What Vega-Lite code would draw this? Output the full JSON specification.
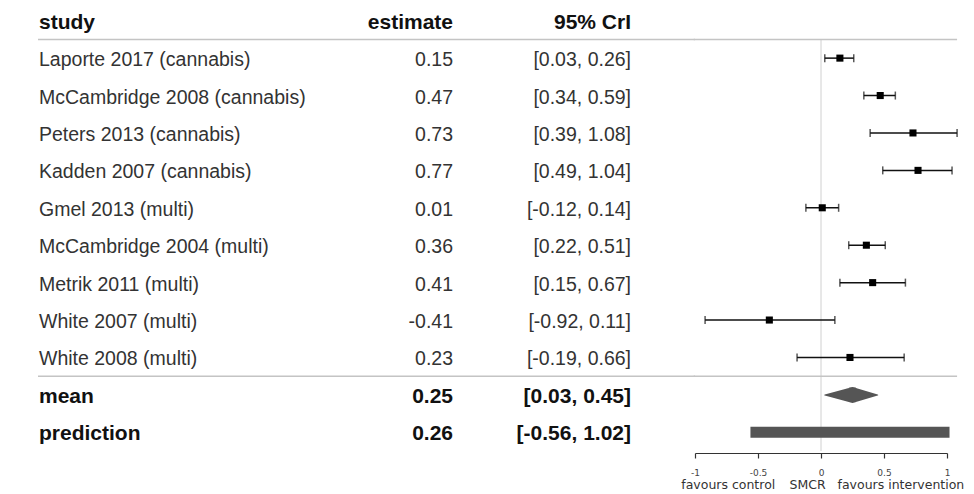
{
  "$schema": "https://vega.github.io/schema/vega-lite/v6.json",
  "padding": {"left": 37, "top": 2, "right": 0, "bottom": 0},
  "background": "white",
  "bounds": "flush",
  "config": {"view": {"stroke": null}, "font": "Liberation Sans"},
  "datasets": {
    "rows": [
      {"study": "study", "kind": "header", "est_txt": "estimate", "ci": "95% CrI"},
      {"study": "Laporte 2017 (cannabis)", "kind": "study", "est": 0.15, "lo": 0.03, "hi": 0.26, "est_txt": "0.15", "ci": "[0.03, 0.26]"},
      {"study": "McCambridge 2008 (cannabis)", "kind": "study", "est": 0.47, "lo": 0.34, "hi": 0.59, "est_txt": "0.47", "ci": "[0.34, 0.59]"},
      {"study": "Peters 2013 (cannabis)", "kind": "study", "est": 0.73, "lo": 0.39, "hi": 1.08, "est_txt": "0.73", "ci": "[0.39, 1.08]"},
      {"study": "Kadden 2007 (cannabis)", "kind": "study", "est": 0.77, "lo": 0.49, "hi": 1.04, "est_txt": "0.77", "ci": "[0.49, 1.04]"},
      {"study": "Gmel 2013 (multi)", "kind": "study", "est": 0.01, "lo": -0.12, "hi": 0.14, "est_txt": "0.01", "ci": "[-0.12, 0.14]"},
      {"study": "McCambridge 2004 (multi)", "kind": "study", "est": 0.36, "lo": 0.22, "hi": 0.51, "est_txt": "0.36", "ci": "[0.22, 0.51]"},
      {"study": "Metrik 2011 (multi)", "kind": "study", "est": 0.41, "lo": 0.15, "hi": 0.67, "est_txt": "0.41", "ci": "[0.15, 0.67]"},
      {"study": "White 2007 (multi)", "kind": "study", "est": -0.41, "lo": -0.92, "hi": 0.11, "est_txt": "-0.41", "ci": "[-0.92, 0.11]"},
      {"study": "White 2008 (multi)", "kind": "study", "est": 0.23, "lo": -0.19, "hi": 0.66, "est_txt": "0.23", "ci": "[-0.19, 0.66]"},
      {"study": "mean", "kind": "mean", "est": 0.25, "lo": 0.03, "hi": 0.45, "est_txt": "0.25", "ci": "[0.03, 0.45]"},
      {"study": "prediction", "kind": "prediction", "est": 0.26, "lo": -0.56, "hi": 1.02, "est_txt": "0.26", "ci": "[-0.56, 1.02]"}
    ],
    "separators": [{"b": "Laporte 2017 (cannabis)"}, {"b": "mean"}]
  },
  "spacing": 0,
  "hconcat": [
    {
      "width": 657,
      "height": 449,
      "data": {"name": "rows"},
      "layer": [
        {
          "data": {"name": "separators"},
          "mark": {"type": "rule", "color": "#c4c4c4", "strokeWidth": 1.5},
          "encoding": {
            "y": {"field": "b", "type": "nominal", "bandPosition": 0, "axis": null,
                  "scale": {"domain": ["study","Laporte 2017 (cannabis)","McCambridge 2008 (cannabis)","Peters 2013 (cannabis)","Kadden 2007 (cannabis)","Gmel 2013 (multi)","McCambridge 2004 (multi)","Metrik 2011 (multi)","White 2007 (multi)","White 2008 (multi)","mean","prediction"], "paddingInner": 0, "paddingOuter": 0}}
          }
        },
        {
          "transform": [{"filter": "datum.kind == 'study'"}],
          "mark": {"type": "text", "align": "left", "baseline": "middle", "dx": 1, "dy": 2, "fontSize": 19.5, "color": "#333333"},
          "encoding": {
            "x": {"datum": 0, "type": "quantitative", "scale": {"domain": [0, 1], "nice": false, "zero": false}, "axis": null},
            "y": {"field": "study", "type": "nominal", "axis": null},
            "text": {"field": "study"}
          }
        },
        {
          "transform": [{"filter": "datum.kind == 'study'"}],
          "mark": {"type": "text", "align": "right", "baseline": "middle", "dy": 2, "fontSize": 19.5, "color": "#333333"},
          "encoding": {
            "x": {"datum": 0.6317, "type": "quantitative", "axis": null},
            "y": {"field": "study", "type": "nominal", "axis": null},
            "text": {"field": "est_txt"}
          }
        },
        {
          "transform": [{"filter": "datum.kind == 'study'"}],
          "mark": {"type": "text", "align": "right", "baseline": "middle", "dy": 2, "fontSize": 19.5, "color": "#333333"},
          "encoding": {
            "x": {"datum": 0.9026, "type": "quantitative", "axis": null},
            "y": {"field": "study", "type": "nominal", "axis": null},
            "text": {"field": "ci"}
          }
        },
        {
          "transform": [{"filter": "datum.kind != 'study'"}],
          "mark": {"type": "text", "align": "left", "baseline": "middle", "dx": 1, "dy": 2, "fontSize": 21, "fontWeight": "bold", "color": "#111111"},
          "encoding": {
            "x": {"datum": 0, "type": "quantitative", "axis": null},
            "y": {"field": "study", "type": "nominal", "axis": null},
            "text": {"field": "study"}
          }
        },
        {
          "transform": [{"filter": "datum.kind != 'study'"}],
          "mark": {"type": "text", "align": "right", "baseline": "middle", "dy": 2, "fontSize": 21, "fontWeight": "bold", "color": "#111111"},
          "encoding": {
            "x": {"datum": 0.6317, "type": "quantitative", "axis": null},
            "y": {"field": "study", "type": "nominal", "axis": null},
            "text": {"field": "est_txt"}
          }
        },
        {
          "transform": [{"filter": "datum.kind != 'study'"}],
          "mark": {"type": "text", "align": "right", "baseline": "middle", "dy": 2, "fontSize": 21, "fontWeight": "bold", "color": "#111111"},
          "encoding": {
            "x": {"datum": 0.9026, "type": "quantitative", "axis": null},
            "y": {"field": "study", "type": "nominal", "axis": null},
            "text": {"field": "ci"}
          }
        }
      ]
    },
    {
      "width": 252,
      "height": 449,
      "data": {"name": "rows"},
      "resolve": {"axis": {"x": "independent"}},
      "layer": [
        {
          "data": {"values": [{}]},
          "mark": {"type": "rule", "color": "#d0d0d0", "strokeWidth": 1},
          "encoding": {
            "x": {"datum": 0, "type": "quantitative",
                  "scale": {"domain": [-1, 1], "nice": false, "zero": false},
                  "axis": {"orient": "bottom", "values": [-1, -0.5, 0, 0.5, 1], "labelExpr": "'' + datum.value",
                           "domainColor": "#333333", "domainWidth": 1.2, "tickColor": "#333333", "tickWidth": 1.2, "tickSize": 5,
                           "labelFontSize": 9, "labelFont": "DejaVu Sans", "labelColor": "#444444", "labelPadding": 10,
                           "offset": 2, "grid": false, "title": null, "labelFlush": false, "labelOverlap": false}},
            "y": {"datum": "Laporte 2017 (cannabis)", "type": "nominal", "bandPosition": 0, "axis": null,
                  "scale": {"domain": ["study","Laporte 2017 (cannabis)","McCambridge 2008 (cannabis)","Peters 2013 (cannabis)","Kadden 2007 (cannabis)","Gmel 2013 (multi)","McCambridge 2004 (multi)","Metrik 2011 (multi)","White 2007 (multi)","White 2008 (multi)","mean","prediction"], "paddingInner": 0, "paddingOuter": 0}},
            "y2": {"value": "height"}
          }
        },
        {
          "data": {"name": "separators"},
          "mark": {"type": "rule", "color": "#c4c4c4", "strokeWidth": 1.5},
          "encoding": {
            "x": {"datum": -1.01, "type": "quantitative",
                  "axis": {"orient": "bottom", "values": [-0.74, -0.11, 0.63],
                           "labelExpr": "datum.value < -0.5 ? 'favours control' : (datum.value < 0 ? 'SMCR' : 'favours intervention')",
                           "domain": false, "ticks": false, "tickSize": 0, "labelPadding": 25, "offset": 2,
                           "labelFontSize": 12.5, "labelFont": "DejaVu Sans", "labelColor": "#333333",
                           "grid": false, "title": null, "labelFlush": false, "labelOverlap": false}},
            "x2": {"datum": 1.08},
            "y": {"field": "b", "type": "nominal", "bandPosition": 0, "axis": null}
          }
        },
        {
          "transform": [{"filter": "datum.kind == 'study'"}],
          "mark": {"type": "rule", "color": "#111111", "strokeWidth": 1.5},
          "encoding": {
            "x": {"field": "lo", "type": "quantitative", "axis": null},
            "x2": {"field": "hi"},
            "y": {"field": "study", "type": "nominal", "axis": null}
          }
        },
        {
          "transform": [{"filter": "datum.kind == 'study'"}],
          "mark": {"type": "tick", "orient": "vertical", "size": 8, "thickness": 1.5, "color": "#111111"},
          "encoding": {
            "x": {"field": "lo", "type": "quantitative", "axis": null},
            "y": {"field": "study", "type": "nominal", "axis": null}
          }
        },
        {
          "transform": [{"filter": "datum.kind == 'study'"}],
          "mark": {"type": "tick", "orient": "vertical", "size": 8, "thickness": 1.5, "color": "#111111"},
          "encoding": {
            "x": {"field": "hi", "type": "quantitative", "axis": null},
            "y": {"field": "study", "type": "nominal", "axis": null}
          }
        },
        {
          "transform": [{"filter": "datum.kind == 'study'"}],
          "mark": {"type": "point", "shape": "square", "filled": true, "size": 50, "color": "#000000", "opacity": 1},
          "encoding": {
            "x": {"field": "est", "type": "quantitative", "axis": null},
            "y": {"field": "study", "type": "nominal", "axis": null}
          }
        },
        {
          "transform": [{"filter": "datum.kind == 'mean'"}, {"fold": ["lo", "est", "hi"], "as": ["k", "v"]}],
          "mark": {"type": "trail", "color": "#555555"},
          "encoding": {
            "x": {"field": "v", "type": "quantitative", "axis": null},
            "y": {"field": "study", "type": "nominal", "axis": null},
            "size": {"condition": {"test": "datum.k == 'est'", "value": 16}, "value": 0}
          }
        },
        {
          "transform": [{"filter": "datum.kind == 'prediction'"}],
          "mark": {"type": "rule", "color": "#555555", "strokeWidth": 11, "strokeCap": "butt"},
          "encoding": {
            "x": {"field": "lo", "type": "quantitative", "axis": null},
            "x2": {"field": "hi"},
            "y": {"field": "study", "type": "nominal", "axis": null}
          }
        }
      ]
    }
  ]
}
